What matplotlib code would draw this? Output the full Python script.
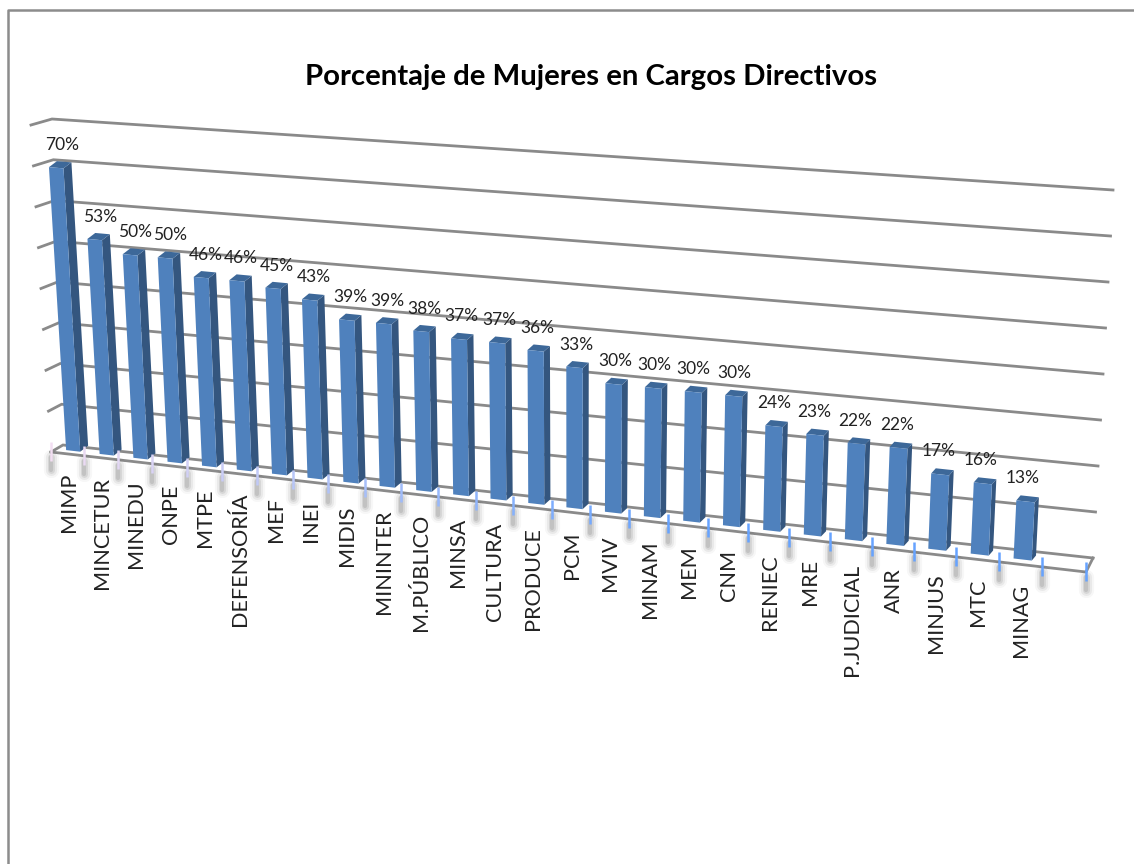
import numpy as np
import matplotlib
matplotlib.use("Agg")
import matplotlib.pyplot as plt

categories = ['MIMP','MINCETUR','MINEDU','ONPE','MTPE','DEFENSORÍA','MEF','INEI','MIDIS','MININTER',
              'M.PÚBLICO','MINSA','CULTURA','PRODUCE','PCM','MVIV','MINAM','MEM','CNM','RENIEC',
              'MRE','P.JUDICIAL','ANR','MINJUS','MTC','MINAG']
values = [70,53,50,50,46,46,45,43,39,39,38,37,37,36,33,30,30,30,30,24,23,22,22,17,16,13]
grid_levels = [0,10,20,30,40,50,60,70,80]
title = 'Porcentaje de Mujeres en Cargos Directivos'

n_slots = 27
vmax = 80.0
k = 1.15  # perspective along the category axis


def lerp(a, b, t):
    return a + (b - a) * t


def slot(u):
    # category position -> 0..1 along the front edge
    s = np.asarray(u, dtype=float) / n_slots
    return s / (s + (1 - s) * k)


def front(u, v, h_left=327.0, h_right=360.0):
    # front plane of the fake 3d box, result in pixels
    t = slot(u)
    xb, yb = lerp(51, 1086, t), lerp(452, 572, t)
    h = lerp(h_left, h_right, t)
    lean = lerp(-20, 20, t)
    return xb + lean * v / vmax, yb - h * v / vmax


fig = plt.figure(figsize=(11.34, 8.64), dpi=100)
ax = fig.add_axes([0, 0, 1, 1])
ax.set_xlim(0, 1134)
ax.set_ylim(864, 0)
ax.axis('off')

# chart frame, only left and top are inside the crop
ax.plot([8, 8, 1134], [864, 10, 10], color='#8c8c8c', lw=1.8, zorder=1)

# grid on the back wall plus the little piece on the side wall
grid_col = '#8a8a8a'
for lev in grid_levels:
    f = lev / vmax
    xs = [lerp(51, 31, f), lerp(63, 52, f), lerp(1093, 1113, f)]
    ys = [lerp(452, 125, f), lerp(445, 119, f), lerp(558, 190, f)]
    ax.plot(xs, ys, color=grid_col, lw=2.0, zorder=2, solid_joinstyle='miter')
ax.plot([51, 1086, 1093], [452, 572, 558], color=grid_col, lw=2.0, zorder=2)

# bars
half = 0.21
for i, val in enumerate(values):
    c = i + 0.5
    t = float(slot(c))
    ox, oy = lerp(5.5, 2, t), lerp(-3, -5, t)
    dx, dy = lerp(8, 4, t), lerp(-6, -5, t)
    x0b, y0b = front(c - half, 0, 323)
    x1b, y1b = front(c + half, 0, 323)
    x0t, y0t = front(c - half, val, 323)
    x1t, y1t = front(c + half, val, 323)
    x0b, x1b, x0t, x1t = x0b + ox, x1b + ox, x0t + ox, x1t + ox
    y0b, y1b, y0t, y1t = y0b + oy, y1b + oy, y0t + oy, y1t + oy
    z = 5 + i * 0.01
    ax.fill([x1b, x1b + dx, x1t + dx, x1t], [y1b, y1b + dy, y1t + dy, y1t], color='#34567f', lw=0, zorder=z)
    ax.fill([x0t, x1t, x1t + dx, x0t + dx], [y0t, y1t, y1t + dy, y0t + dy], color='#3d6899', lw=0, zorder=z)
    ax.fill([x0b, x1b, x1t, x0t], [y0b, y1b, y1t, y0t], color='#4f81bd', lw=0, zorder=z)
    ax.text((x0t + x1t) / 2 + lerp(6, -3, t), y0t - 22, '%d%%' % val, ha='center', va='center',
            fontsize=12.5, family='Lato', color='#222222', zorder=8)

# tick marks with their soft shadow
pink = np.array([0.95, 0.87, 0.95])
blue = np.array([0.40, 0.64, 1.00])
for j in range(n_slots + 1):
    x, y = front(j, 0)
    t = j / n_slots
    col = lerp(pink, blue, min(t * 1.6, 1.0))
    for w, a in [(11, 0.04), (8, 0.07), (5, 0.10), (3, 0.12)]:
        ax.plot([x, x], [y + 5, y + 18], color='#333333', lw=w, alpha=a, zorder=6, solid_capstyle='round')
    ax.plot([x, x], [y - 10, y + 9], color=col, lw=1.8, zorder=7, solid_capstyle='butt')

# category labels
for i, name in enumerate(categories):
    x, y = front(i + 0.5, 0)
    ax.text(x + 1, y + 19, name, rotation=90, ha='center', va='top', fontsize=15.6,
            family='Lato', color='#222222', zorder=8)

ax.text(591, 77, title, ha='center', va='center', fontsize=21.2, fontweight='bold',
        family='Lato', color='black', zorder=8)

fig.savefig('out.png', dpi=100, facecolor='white')
